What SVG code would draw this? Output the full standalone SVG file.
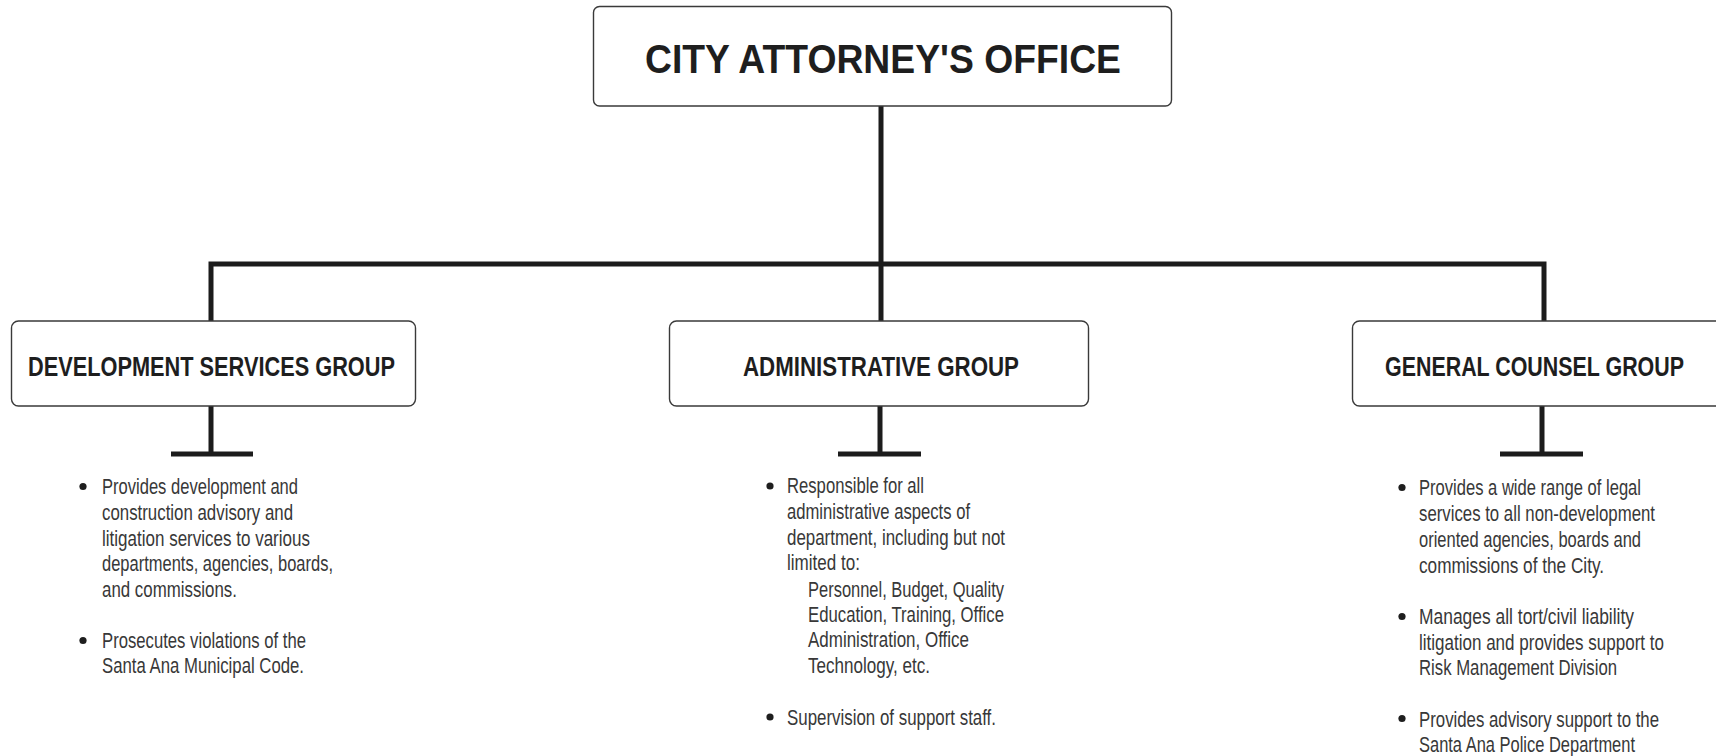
<svg xmlns="http://www.w3.org/2000/svg" width="1716" height="756" viewBox="0 0 1716 756">
<style>
.box{fill:#fff;stroke:#3a3a3a;stroke-width:1.4}
.conn{fill:none;stroke:#1c1c1c;stroke-width:5;stroke-linejoin:miter;stroke-linecap:butt}
.title{font-family:"Liberation Sans","Arial",sans-serif;font-weight:bold;font-size:40px;fill:#1e1e1e}
.head{font-family:"Liberation Sans Narrow","Liberation Sans","Arial Narrow",sans-serif;font-weight:bold;font-size:27px;fill:#1e1e1e}
.body{font-family:"Liberation Sans Narrow","Liberation Sans","Arial Narrow",sans-serif;font-size:21.5px;fill:#383838}
.dot{fill:#1e1e1e}
</style>
<rect width="1716" height="756" fill="#fff"/>
<g id="connectors">
<path class="conn" d="M881 104 V264"/>
<path class="conn" d="M211 323 V264 H1544 V323"/>
<path class="conn" d="M881 264 V323"/>
<path class="conn" d="M211 404 V454 M171 454 H253"/>
<path class="conn" d="M880 404 V454 M838 454 H921"/>
<path class="conn" d="M1542 404 V454 M1500 454 H1583"/>
</g>
<g id="city-attorney">
<rect class="box" x="593.5" y="6.5" width="578" height="99.5" rx="6"/>
<text class="title" x="645" y="73" textLength="476" lengthAdjust="spacingAndGlyphs">CITY ATTORNEY'S OFFICE</text>
</g>
<g id="development-services">
<rect class="box" x="11.5" y="321" width="404" height="85" rx="7"/>
<text class="head" x="28" y="376" textLength="367" lengthAdjust="spacingAndGlyphs">DEVELOPMENT SERVICES GROUP</text>
</g>
<g id="administrative">
<rect class="box" x="669.5" y="321" width="419" height="85" rx="7"/>
<text class="head" x="743" y="376" textLength="276" lengthAdjust="spacingAndGlyphs">ADMINISTRATIVE GROUP</text>
</g>
<g id="general-counsel">
<rect class="box" x="1352.5" y="321" width="400" height="85" rx="7"/>
<text class="head" x="1385" y="376" textLength="299" lengthAdjust="spacingAndGlyphs">GENERAL COUNSEL GROUP</text>
</g>
<g id="development-notes">
<circle class="dot" cx="83" cy="486.5" r="3.6"/>
<circle class="dot" cx="83" cy="640.5" r="3.6"/>
<text class="body" x="102" y="494" textLength="196" lengthAdjust="spacingAndGlyphs">Provides development and</text>
<text class="body" x="102" y="520" textLength="191" lengthAdjust="spacingAndGlyphs">construction advisory and</text>
<text class="body" x="102" y="546" textLength="208" lengthAdjust="spacingAndGlyphs">litigation services to various</text>
<text class="body" x="102" y="571" textLength="231" lengthAdjust="spacingAndGlyphs">departments, agencies, boards,</text>
<text class="body" x="102" y="597" textLength="135" lengthAdjust="spacingAndGlyphs">and commissions.</text>
<text class="body" x="102" y="648" textLength="204" lengthAdjust="spacingAndGlyphs">Prosecutes violations of the</text>
<text class="body" x="102" y="673" textLength="202" lengthAdjust="spacingAndGlyphs">Santa Ana Municipal Code.</text>
</g>
<g id="administrative-notes">
<circle class="dot" cx="770" cy="486" r="3.6"/>
<circle class="dot" cx="770" cy="717" r="3.6"/>
<text class="body" x="787" y="493" textLength="137" lengthAdjust="spacingAndGlyphs">Responsible for all</text>
<text class="body" x="787" y="519" textLength="183" lengthAdjust="spacingAndGlyphs">administrative aspects of</text>
<text class="body" x="787" y="545" textLength="218" lengthAdjust="spacingAndGlyphs">department, including but not</text>
<text class="body" x="787" y="570" textLength="73" lengthAdjust="spacingAndGlyphs">limited to:</text>
<text class="body" x="808" y="597" textLength="196" lengthAdjust="spacingAndGlyphs">Personnel, Budget, Quality</text>
<text class="body" x="808" y="622" textLength="196" lengthAdjust="spacingAndGlyphs">Education, Training, Office</text>
<text class="body" x="808" y="647" textLength="161" lengthAdjust="spacingAndGlyphs">Administration, Office</text>
<text class="body" x="808" y="673" textLength="122" lengthAdjust="spacingAndGlyphs">Technology, etc.</text>
<text class="body" x="787" y="725" textLength="209" lengthAdjust="spacingAndGlyphs">Supervision of support staff.</text>
</g>
<g id="general-counsel-notes">
<circle class="dot" cx="1402" cy="487.5" r="3.6"/>
<circle class="dot" cx="1402" cy="616.5" r="3.6"/>
<circle class="dot" cx="1402" cy="718.5" r="3.6"/>
<text class="body" x="1419" y="495" textLength="222" lengthAdjust="spacingAndGlyphs">Provides a wide range of legal</text>
<text class="body" x="1419" y="521" textLength="236" lengthAdjust="spacingAndGlyphs">services to all non-development</text>
<text class="body" x="1419" y="547" textLength="222" lengthAdjust="spacingAndGlyphs">oriented agencies, boards and</text>
<text class="body" x="1419" y="573" textLength="185" lengthAdjust="spacingAndGlyphs">commissions of the City.</text>
<text class="body" x="1419" y="624" textLength="215" lengthAdjust="spacingAndGlyphs">Manages all tort/civil liability</text>
<text class="body" x="1419" y="650" textLength="245" lengthAdjust="spacingAndGlyphs">litigation and provides support to</text>
<text class="body" x="1419" y="675" textLength="198" lengthAdjust="spacingAndGlyphs">Risk Management Division</text>
<text class="body" x="1419" y="727" textLength="240" lengthAdjust="spacingAndGlyphs">Provides advisory support to the</text>
<text class="body" x="1419" y="752" textLength="216" lengthAdjust="spacingAndGlyphs">Santa Ana Police Department</text>
</g>
</svg>
